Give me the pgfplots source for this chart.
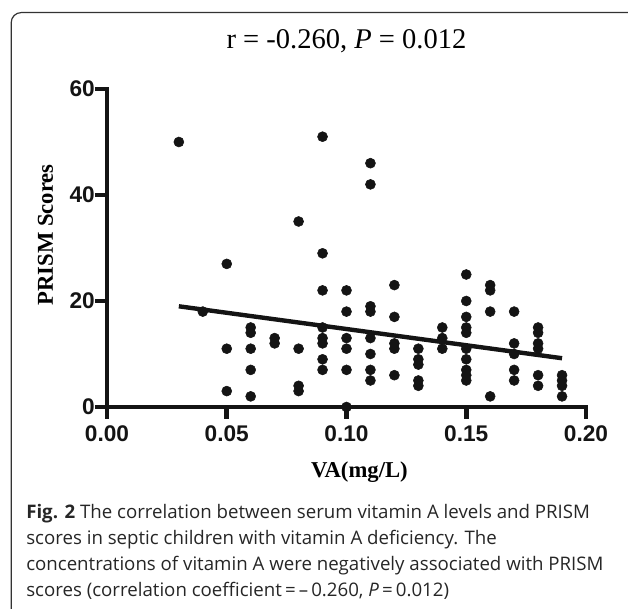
\documentclass[border=0pt]{standalone}
\usepackage{fontspec}
\setmainfont{Liberation Serif}
\newfontfamily\arial{Liberation Sans}
\newfontfamily\capfont{Open Sans}
\usepackage{pgfplots}
\pgfplotsset{compat=1.18}
\usetikzlibrary{calc}
\begin{document}
\begin{tikzpicture}
\path[use as bounding box] (0,0) rectangle (471pt,456.75pt);
% frame
\draw[line width=0.9pt, black!80, rounded corners=7.5pt] (8.4pt,-10pt) -- (8.4pt,447.3pt) -- (480pt,447.3pt);
\begin{axis}[
  at={(80.25pt,151.5pt)}, anchor=south west,
  scale only axis, width=359.25pt, height=238.5pt,
  xmin=0, xmax=0.2, ymin=0, ymax=60,
  clip=false,
  axis lines=left,
  axis line style={-, line width=3.6pt, line cap=rect, black!92},
  tick align=outside,
  major tick length=9pt,
  major tick style={line width=3.6pt, black!92},
  xtick={0,0.05,0.1,0.15,0.2},
  ytick={0,20,40,60},
  /pgf/number format/assume math mode=true,
  ticklabel style={font=\arial\bfseries\fontsize{17}{20}\selectfont, inner sep=0pt, text=black!92},
  xticklabel style={/pgf/number format/.cd, fixed, fixed zerofill, precision=2, /tikz/.cd, yshift=-5pt},
  title={r = -0.260, \textit{P} = 0.012},
  title style={font=\fontsize{21.4}{24}\selectfont, at={(axis description cs:0.5,1)}, anchor=base, yshift=24pt},
  xlabel={VA(mg/L)},
  xlabel style={font=\bfseries\fontsize{17}{20}\selectfont, at={($(axis description cs:0.527,0)+(0,-53.25pt)$)}, anchor=base},
  ylabel={PRISM Scores},
  ylabel style={font=\bfseries\fontsize{17}{20}\selectfont, at={($(axis description cs:0,0.541)+(-40.5pt,0)$)}, anchor=base},
]
\addplot[only marks, mark=*, mark size=3.75pt, mark options={fill=black!92, draw=black!92}] coordinates {
(0.03,50)
(0.04,18)
(0.05,27) (0.05,11) (0.05,3)
(0.06,15) (0.06,14) (0.06,11) (0.06,7) (0.06,2)
(0.07,13) (0.07,12)
(0.08,35) (0.08,11) (0.08,4) (0.08,3)
(0.09,51) (0.09,29) (0.09,22) (0.09,15) (0.09,13) (0.09,12) (0.09,9) (0.09,7)
(0.10,22) (0.10,18) (0.10,13) (0.10,11) (0.10,7) (0.10,0)
(0.11,46) (0.11,42) (0.11,19) (0.11,18) (0.11,13) (0.11,10) (0.11,7) (0.11,5)
(0.12,23) (0.12,17) (0.12,12) (0.12,11) (0.12,6)
(0.13,11) (0.13,9) (0.13,8) (0.13,5) (0.13,4)
(0.14,15) (0.14,13) (0.14,11)
(0.15,25) (0.15,20) (0.15,17) (0.15,15) (0.15,14) (0.15,11) (0.15,9) (0.15,7) (0.15,6) (0.15,5)
(0.16,23) (0.16,22) (0.16,18) (0.16,2)
(0.17,18) (0.17,12) (0.17,10) (0.17,7) (0.17,5)
(0.18,15) (0.18,14) (0.18,12) (0.18,11) (0.18,6) (0.18,4)
(0.19,6) (0.19,5) (0.19,4) (0.19,2)
};
\addplot[black!92, line width=3.3pt] coordinates {(0.03,19.0) (0.19,9.2)};
\end{axis}
\node[anchor=base west, align=left, inner sep=0pt, text=black!85,
      font=\capfont\fontsize{14}{19.5}\selectfont] at (19.5pt,9.4pt)
{\textbf{Fig. 2} The correlation between serum vitamin A levels and PRISM\\
scores in septic children with vitamin A deficiency. The\\
concentrations of vitamin A were negatively associated with PRISM\\
scores (correlation coefficient\,=\,–\,0.260, \textit{P}\,=\,0.012)};
\end{tikzpicture}
\end{document}
